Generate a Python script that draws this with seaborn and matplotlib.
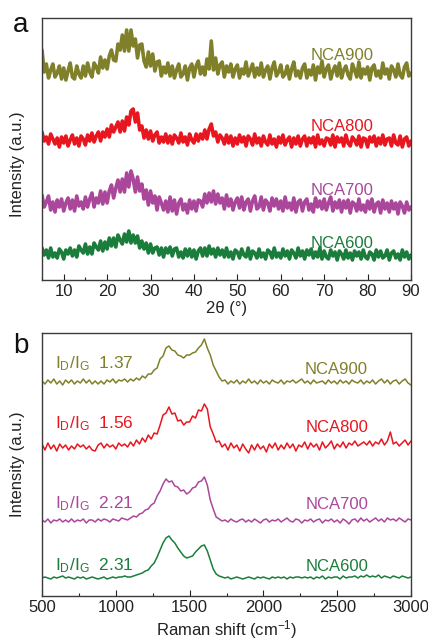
import numpy as np
import pandas as pd
import matplotlib
matplotlib.use("Agg")
import matplotlib.pyplot as plt
from matplotlib.ticker import MultipleLocator
import seaborn as sns

sns.set_theme(style="white")
plt.rcParams["font.family"] = ["Liberation Sans", "DejaVu Sans"]
plt.rcParams["mathtext.default"] = "regular"

samples = ["NCA600", "NCA700", "NCA800", "NCA900"]
colors = {"NCA600": "#1b7d3c", "NCA700": "#aa479b",
          "NCA800": "#e8161f", "NCA900": "#80802a"}

# XRD, 2theta 5..90 every 0.5 deg, intensity (a.u.)
two_theta = np.arange(5.0, 90.01, 0.5)
xrd_900 = [
    22, 0, 8, -6, 2, 8, -5, -1, 6, -7,
    4, -8, 1, 9, -5, -7, 6, -2, -6, 6,
    -4, 9, 0, -5, 9, 5, -1, 15, 4, 12,
    3, 16, 22, 12, 11, 28, 22, 37, 21, 42,
    21, 42, 26, 33, 14, 27, 28, 11, 5, 20,
    6, 18, 1, 10, 11, -4, 5, -1, 9, -4,
    6, -6, 2, 8, -5, -2, 6, -8, 4, 8,
    -5, 6, 11, -2, 5, -3, 13, 3, 31, 2,
    14, -2, 7, 10, -5, 6, 0, 8, -5, 3,
    7, -6, 3, -2, 10, -4, 2, 8, -5, 4,
    -3, 9, -5, 2, 6, -7, 4, 10, -4, 0,
    7, -5, -2, 6, -7, 3, 10, -4, 1, -6,
    4, 8, -6, 2, -3, 7, -8, 5, -1, 11,
    -5, 3, 7, -7, 1, 6, -4, 9, -6, 2,
    6, -3, -7, 8, 2, -5, 10, -6, 3, -2,
    5, -8, 4, 7, -4, 1, -6, 9, -2, 3,
    -7, 6, 2, -5, 8, -3, -6, 5, 9, -4,
    -1]
xrd_800 = [
    9, 0, 4, -3, 7, 2, -3, 3, -6, 4,
    -2, 5, -5, 1, 6, -3, 3, -5, 5, 2,
    -4, 6, 0, 8, -1, 5, 9, 0, 9, 4,
    12, 4, 16, 9, 14, 19, 9, 20, 10, 24,
    16, 30, 32, 19, 28, 11, 15, 3, 11, 2,
    10, 0, 6, 9, -2, 4, -1, 7, -2, 5,
    -3, 6, 3, -2, 8, -1, 4, -4, 7, 1,
    -2, 7, 0, 7, 2, 11, 2, 12, 17, 5,
    9, -1, 6, 3, -3, 6, -2, 5, -5, 3,
    -3, 6, -1, 4, -5, 5, 2, -4, 7, -2,
    3, -5, 5, -1, -4, 6, -3, 2, -6, 4,
    -2, 6, -4, 1, 4, -6, 3, -3, 5, -5,
    2, 5, -5, 3, -2, 4, -6, 6, -3, 1,
    -5, 3, 2, -4, 6, -6, 4, -1, 3, -5,
    6, -2, -5, 4, 1, -4, 5, -6, 3, 2,
    -6, 4, -1, 5, -5, 3, -3, 6, -4, 2,
    3, -5, 6, -2, -4, 5, -6, 2, 4, -5,
    0]
xrd_700 = [
    12, 0, 5, 11, -3, 5, -5, 7, 0, 8,
    -4, 4, 9, -2, 7, -4, 11, 1, 5, -2,
    10, 0, 8, 14, 0, 9, 4, 16, 3, 15,
    4, 16, 22, 9, 19, 27, 15, 28, 15, 34,
    20, 36, 28, 15, 30, 16, 23, 8, 17, 2,
    16, 4, 11, -3, 10, 4, -3, 6, -5, 10,
    -4, 7, -7, 4, 8, -3, 3, -6, 7, -2,
    6, -4, 7, 6, 0, 13, 4, 14, 5, 16,
    3, 13, 4, 9, -2, 12, 1, 8, -3, 5,
    9, -1, 10, -3, 5, 8, -4, 6, 11, -2,
    0, 10, -3, 7, 4, -4, 9, 1, 8, -2,
    6, -4, 10, -1, 4, -3, 9, -5, 5, 7,
    -4, 5, 8, -3, 3, -5, 9, 0, 6, -2,
    8, -3, 4, 10, -4, 5, -1, 7, -5, 6,
    -1, 7, -6, 5, 3, -4, 8, -3, 2, -5,
    6, -2, 8, -5, 3, 5, -6, 7, -2, 4,
    -5, 6, -2, 4, -7, 5, 1, -6, 5, -3,
    0]
xrd_600 = [
    7, 0, 5, -3, 7, -2, 2, -3, 6, 3,
    -4, 5, 1, 7, -1, 5, -2, 9, 5, 2,
    11, 1, 8, 1, 12, 8, 5, 14, 4, 13,
    6, 17, 9, 17, 8, 20, 15, 11, 21, 13,
    24, 12, 20, 12, 19, 7, 14, 6, 12, 2,
    11, 2, 7, 8, 0, 7, -2, 7, 2, 8,
    -1, 6, 7, -2, 3, -3, 6, -1, 6, -2,
    5, -4, 4, 7, -1, 7, -1, 9, 1, 6,
    -2, 7, 0, 5, -2, 7, -2, 3, -4, 5,
    3, -3, 6, 0, -2, 7, -4, 4, 2, -3,
    6, -2, 2, -4, 5, 3, -3, 7, -2, 2,
    -3, 6, -1, 4, -4, 5, 2, -3, 7, -1,
    4, -4, 5, 0, 6, -3, 3, -2, 7, -4,
    4, -2, -4, 5, -1, 3, -5, 4, 1, -4,
    5, -3, 2, -5, 4, -1, 3, -4, 5, -2,
    -4, 3, 1, -5, 5, -2, 4, -3, -1, 5,
    -5, 2, 4, -3, 1, -5, 5, -2, 3, -4,
    0]
xrd_offset = {"NCA600": 25, "NCA700": 73, "NCA800": 139, "NCA900": 208}

# Raman, 500..3000 cm-1 every 20 cm-1
raman_shift = np.arange(500, 3001, 20)
raman_900 = [
    1, -2, 2, -1, 3, -2, 1, -3, 2, -1,
    2, -2, 1, -1, 3, -1, 2, -2, 1, -2,
    1, -2, 2, 0, 3, -1, 2, 1, 3, 0,
    3, 1, 4, 2, 6, 4, 8, 8, 12, 14,
    23, 26, 34, 36, 32, 31, 27, 26, 24, 27,
    27, 29, 30, 34, 37, 43, 34, 27, 17, 11,
    5, 1, 2, -2, 1, -1, 2, -2, 1, -1,
    3, -1, 1, -2, 2, -1, 1, -2, 2, 0,
    -1, 2, -2, 1, 0, 2, -1, 1, 3, -1,
    1, -2, 2, -1, 0, 1, -2, 2, -1, 1,
    -2, 2, -1, 1, -2, 2, 0, -1, 2, -2,
    1, -1, 2, -2, 1, 3, -1, 2, -2, 1,
    2, -2, 1, 3, -1, -3]
raman_800 = [
    3, -3, 4, -2, 2, -4, 3, -1, 2, -3,
    1, -2, 3, 0, 2, -2, 1, -3, -4, 2,
    4, -1, 3, 0, 2, -2, 4, 1, 3, 0,
    5, 1, 7, 3, 9, 5, 12, 8, 14, 13,
    22, 32, 34, 40, 33, 34, 26, 27, 22, 25,
    25, 31, 29, 37, 36, 43, 38, 20, 13, 5,
    6, 0, 3, -3, 4, -1, 2, -4, 3, -2,
    -6, 2, -3, 3, -2, 1, -5, 3, -1, 4,
    -3, 2, -2, 4, -1, 3, -4, 2, 0, 5,
    -2, 4, 0, 3, -3, 5, -1, 2, 6, -2,
    3, 0, 5, -1, 4, 2, 6, 1, 3, 5,
    2, 6, 1, 5, 3, 8, 2, 6, 15, 3,
    5, 1, 4, 7, 2, 6]
raman_700 = [
    1, -1, 2, -2, 1, 0, 2, -1, 1, -1,
    2, -1, 1, 0, 2, -2, 1, 1, -1, 2,
    0, 2, 1, -1, 2, 1, 0, 3, 2, 1,
    3, 5, 4, 7, 8, 11, 12, 16, 18, 25,
    30, 37, 42, 39, 40, 35, 34, 30, 31, 27,
    29, 33, 34, 39, 40, 44, 36, 21, 12, 4,
    2, 0, 1, -1, 2, 0, -1, 1, 2, -1,
    1, -1, 2, 0, -2, 1, 2, -1, 1, 0,
    2, -1, 1, 3, 0, -1, 2, 1, -2, 1,
    0, 2, -1, 1, 2, -2, 1, 0, 2, -1,
    1, -2, 2, 0, -3, 1, 2, -1, 3, 0,
    2, -1, 1, 3, 0, 2, -1, 3, 1, 2,
    0, 3, 1, -1, 2, 1]
raman_600 = [
    0, 1, 0, -1, 1, 0, 1, 2, 0, 1,
    0, -1, 1, 0, 1, -1, 0, 1, 0, -1,
    0, 1, -1, 0, 1, 0, 1, 1, 2, 1,
    1, 2, 3, 4, 5, 7, 8, 12, 15, 21,
    28, 35, 40, 42, 38, 35, 30, 26, 22, 20,
    21, 22, 26, 29, 32, 33, 27, 18, 9, 4,
    2, 1, 0, 1, -1, 0, 1, 0, -1, 0,
    1, 0, -1, 1, 0, 1, 0, -1, 1, 0,
    1, 0, 1, -1, 1, 0, 1, 1, 0, 1,
    0, 1, -1, 1, 0, 2, -1, 1, 0, 1,
    1, -1, 2, 0, 1, 1, 2, 0, 2, 1,
    3, 1, 2, 1, 3, 0, 2, 1, 0, 2,
    1, 0, 2, 1, 0, 1]
raman_offset = {"NCA600": 18, "NCA700": 75, "NCA800": 149, "NCA900": 214}
id_ig = {"NCA600": "2.31", "NCA700": "2.21", "NCA800": "1.56", "NCA900": "1.37"}

xrd = {"NCA600": xrd_600, "NCA700": xrd_700, "NCA800": xrd_800, "NCA900": xrd_900}
raman = {"NCA600": raman_600, "NCA700": raman_700, "NCA800": raman_800, "NCA900": raman_900}

xrd_df = pd.concat([pd.DataFrame({"x": two_theta, "y": np.array(xrd[s]) + xrd_offset[s], "sample": s})
                    for s in samples])
raman_df = pd.concat([pd.DataFrame({"x": raman_shift, "y": np.array(raman[s]) + raman_offset[s], "sample": s})
                      for s in samples])

fig = plt.figure(figsize=(4.28, 6.41), dpi=100)
ax1 = fig.add_axes([42 / 428, 1 - 280 / 641, 369 / 428, 262 / 641])
ax2 = fig.add_axes([42 / 428, 1 - 596 / 641, 369 / 428, 263 / 641])

# thick line so the dense noise reads as a band, like the scan
sns.lineplot(data=xrd_df, x="x", y="y", hue="sample", palette=colors, estimator=None,
             sort=False, lw=2.6, legend=False, ax=ax1)
sns.lineplot(data=raman_df, x="x", y="y", hue="sample", palette=colors, estimator=None,
             sort=False, lw=1.1, legend=False, ax=ax2)

ax1.set_xlim(5, 90)
ax1.set_ylim(0, 262)
ax1.xaxis.set_major_locator(MultipleLocator(10))
ax1.xaxis.set_minor_locator(MultipleLocator(5))
ax2.set_xlim(500, 3000)
ax2.set_ylim(0, 263)
ax2.xaxis.set_major_locator(MultipleLocator(500))
ax2.xaxis.set_minor_locator(MultipleLocator(250))

xrd_label_y = {"NCA600": 32, "NCA700": 85, "NCA800": 149, "NCA900": 220}
raman_label_y = {"NCA600": 25, "NCA700": 87, "NCA800": 164, "NCA900": 222}
ratio_label_y = {"NCA600": 26, "NCA700": 88, "NCA800": 168, "NCA900": 228}
for s in samples:
    ax1.text(74.2, xrd_label_y[s], s, color=colors[s], fontsize=12, ha="center", va="baseline")
    ax2.text(2496, raman_label_y[s], s, color=colors[s], fontsize=12, ha="center", va="baseline")
    ax2.text(588, ratio_label_y[s], "$I_D/I_G$  " + id_ig[s], color=colors[s], fontsize=12.5,
             ha="left", va="baseline")

for ax in (ax1, ax2):
    for sp in ax.spines.values():
        sp.set_color("#3a3a3a")
        sp.set_linewidth(1.0)
    ax.tick_params(axis="x", which="major", direction="in", length=4, width=0.8,
                   labelsize=12, pad=3, colors="#222222", bottom=True)
    ax.tick_params(axis="x", which="minor", direction="in", length=2.5, width=0.8,
                   bottom=True)
    ax.tick_params(axis="y", left=False, labelleft=False)
    ax.set_ylabel("Intensity (a.u.)", fontsize=12, color="#222222")

ax1.set_xlabel("2θ (°)", fontsize=12, color="#222222")
ax2.set_xlabel("Raman shift (cm$^{-1}$)", fontsize=12, color="#222222")
ax1.xaxis.set_label_coords(0.5, -0.08)
ax2.xaxis.set_label_coords(0.5, -0.084)
ax1.yaxis.set_label_coords(-0.045, 0.443)
ax2.yaxis.set_label_coords(-0.045, 0.5)

fig.text(13 / 428, 1 - 32 / 641, "a", fontsize=20, va="baseline", color="#111111")
fig.text(13 / 428, 1 - 353 / 641, "b", fontsize=20, va="baseline", color="#111111")

fig.savefig("out.png", dpi=100)
